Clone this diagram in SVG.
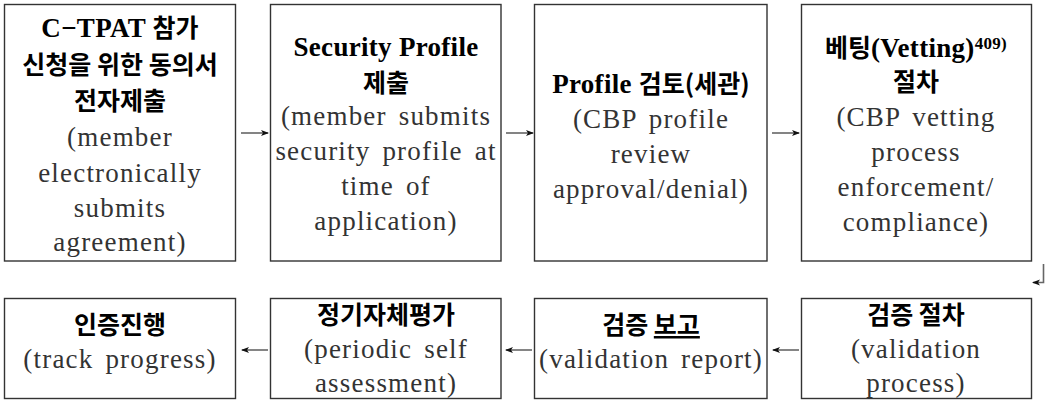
<svg xmlns="http://www.w3.org/2000/svg" width="1046" height="402" viewBox="0 0 1046 402">
<style>
.box{fill:#fff;stroke:#333;stroke-width:1.4}
.t{font-family:"Liberation Serif","Noto Sans CJK KR",serif;font-weight:bold;font-size:27px;fill:#000;text-anchor:middle;letter-spacing:0.3px}
.k{font-family:"Noto Sans CJK KR","Liberation Sans",sans-serif;font-weight:bold;font-size:25px;letter-spacing:0}
.s{font-family:"Liberation Serif","Noto Sans CJK KR",serif;font-size:27px;fill:#333;text-anchor:middle;letter-spacing:1.2px;word-spacing:4px}
.sup{font-size:17px}
.c{fill:none;stroke:#666;stroke-width:1.6}
</style>
<defs>
<marker id="ah" viewBox="0 0 8 8" refX="7" refY="4" markerWidth="8" markerHeight="8" markerUnits="userSpaceOnUse" orient="auto">
<path d="M0,1 L8,4 L0,7 L2,4 Z" fill="#111"/>
</marker>
</defs>
<g id="n1">
<rect class="box" x="4.5" y="4.5" width="231" height="256.5"/>
<text class="t" x="120" y="37">C−TPAT <tspan class="k">참가</tspan></text>
<text class="t k" x="120" y="74">신청을 위한 동의서</text>
<text class="t k" x="120" y="110">전자제출</text>
<text class="s" x="120" y="146">(member</text>
<text class="s" x="120" y="182">electronically</text>
<text class="s" x="120" y="217">submits</text>
<text class="s" x="120" y="251">agreement)</text>
</g>
<g id="n2">
<rect class="box" x="270.5" y="4.5" width="230.5" height="256.5"/>
<text class="t" x="386" y="56">Security Profile</text>
<text class="t k" x="386" y="92">제출</text>
<text class="s" x="386" y="125">(member submits</text>
<text class="s" x="386" y="160">security profile at</text>
<text class="s" x="386" y="195">time of</text>
<text class="s" x="386" y="230">application)</text>
</g>
<g id="n3">
<rect class="box" x="534.5" y="4.5" width="232.5" height="256.5"/>
<text class="t" x="651" y="93">Profile <tspan class="k">검토(세관)</tspan></text>
<text class="s" x="651" y="128">(CBP profile</text>
<text class="s" x="651" y="163">review</text>
<text class="s" x="651" y="198">approval/denial)</text>
</g>
<g id="n4">
<rect class="box" x="801.5" y="4.5" width="230" height="256.5"/>
<text class="t" x="916" y="57"><tspan class="k">베팅</tspan>(Vetting)<tspan class="sup" dy="-8">409)</tspan></text>
<text class="t k" x="916" y="91">절차</text>
<text class="s" x="916" y="126">(CBP vetting</text>
<text class="s" x="916" y="161">process</text>
<text class="s" x="916" y="196">enforcement/</text>
<text class="s" x="916" y="231">compliance)</text>
</g>
<g id="n5">
<rect class="box" x="4.5" y="298.5" width="231" height="100"/>
<text class="t k" x="120" y="334">인증진행</text>
<text class="s" x="120" y="368">(track progress)</text>
</g>
<g id="n6">
<rect class="box" x="270.5" y="298.5" width="230.5" height="100"/>
<text class="t k" x="386" y="324">정기자체평가</text>
<text class="s" x="386" y="358">(periodic self</text>
<text class="s" x="386" y="392">assessment)</text>
</g>
<g id="n7">
<rect class="box" x="534.5" y="298.5" width="232.5" height="100"/>
<text class="t k" x="651" y="334">검증 <tspan text-decoration="underline">보고</tspan></text>
<text class="s" x="651" y="368">(validation report)</text>
</g>
<g id="n8">
<rect class="box" x="801.5" y="298.5" width="230" height="100"/>
<text class="t k" x="916" y="324">검증 절차</text>
<text class="s" x="916" y="358">(validation</text>
<text class="s" x="916" y="392">process)</text>
</g>
<g id="connectors">
<path class="c" d="M241,133 H268" marker-end="url(#ah)"/>
<path class="c" d="M506,133 H533" marker-end="url(#ah)"/>
<path class="c" d="M772,133 H799" marker-end="url(#ah)"/>
<path class="c" d="M1043.5,264 V282.5 H1033" marker-end="url(#ah)"/>
<path class="c" d="M799,350 H773" marker-end="url(#ah)"/>
<path class="c" d="M532,350 H506" marker-end="url(#ah)"/>
<path class="c" d="M268,350 H242" marker-end="url(#ah)"/>
</g>
</svg>
